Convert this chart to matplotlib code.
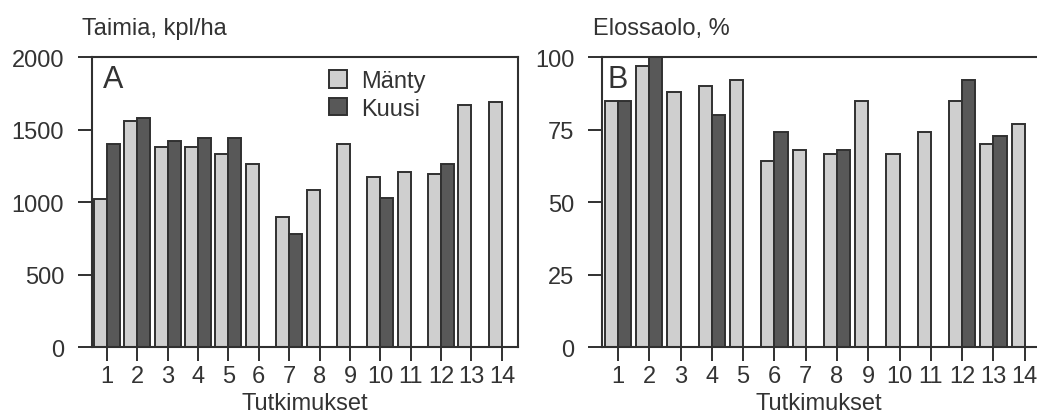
import matplotlib.pyplot as plt
import numpy as np

plt.rcParams['font.family'] = ['Liberation Sans', 'DejaVu Sans']

# Tutkimukset 1..14
studies = np.arange(1, 15)
tick_labels = [str(s) for s in studies]

# A: Taimia, kpl/ha (None = no bar)
manty_a = [1020, 1560, 1380, 1380, 1330, 1260, 900, 1080, 1400, 1170, 1210, 1190, 1670, 1690]
kuusi_a = [1400, 1580, 1420, 1440, 1440, None, 780, None, None, 1030, None, 1260, None, None]

# B: Elossaolo, %
manty_b = [85, 97, 88, 90, 92, 64, 68, 66.5, 85, 66.5, 74, 85, 70, 77]
kuusi_b = [85, 100, None, 80, None, 74, None, 68, None, None, None, 92, 72.7, None]

light = '#cfcfcf'
dark = '#585858'
edge = '#303030'
txt = '#333333'

fig = plt.figure(figsize=(10.37, 4.14), dpi=100)
axA = fig.add_axes([0.0887, 0.1594, 0.4108, 0.7005])
axB = fig.add_axes([0.5805, 0.1594, 0.4258, 0.7005])


def draw(ax, manty, kuusi, width):
    xm = [s - width / 2 for s in studies]
    ax.bar(xm, manty, width=width, color=light, edgecolor=edge, linewidth=1.4,
           label='Mänty', zorder=2)
    xs = [s + width / 2 for s, k in zip(studies, kuusi) if k is not None]
    ks = [k for k in kuusi if k is not None]
    ax.bar(xs, ks, width=width, color=dark, edgecolor=edge, linewidth=1.4,
           label='Kuusi', zorder=2)
    ax.set_xticks(studies)
    ax.set_xticklabels(tick_labels)
    ax.tick_params(axis='both', direction='out', length=10, width=1.4,
                   colors=edge, labelcolor=txt, labelsize=17)
    ax.tick_params(axis='x', pad=3)
    ax.tick_params(axis='y', pad=10)
    for sp in ax.spines.values():
        sp.set_linewidth(1.5)
        sp.set_color(edge)
    ax.set_xlabel('Tutkimukset', fontsize=17, color=txt)


draw(axA, manty_a, kuusi_a, 0.43)
axA.set_xlim(0.51, 14.53)
axA.set_ylim(0, 2000)
axA.set_yticks([0, 500, 1000, 1500, 2000])
axA.text(0.025, 0.975, 'A', transform=axA.transAxes, fontsize=22, color=txt,
         ha='left', va='top')
axA.legend(loc='upper left', bbox_to_anchor=(0.557, 0.955), frameon=False,
           fontsize=17, handlelength=0.76, handleheight=0.76, handletextpad=0.6,
           labelspacing=0.25, borderpad=0, borderaxespad=0, labelcolor=txt)

draw(axB, manty_b, kuusi_b, 0.42)
axB.set_xlim(0.49, 14.6)
axB.set_ylim(0, 100)
axB.set_yticks([0, 25, 50, 75, 100])
axB.text(0.012, 0.975, 'B', transform=axB.transAxes, fontsize=22, color=txt,
         ha='left', va='top', zorder=3)
axB.xaxis.set_label_coords(0.49, -0.155)
axA.xaxis.set_label_coords(0.5, -0.155)

fig.text(82 / 1037, 1 - 35 / 414, 'Taimia, kpl/ha', fontsize=17, color=txt,
         ha='left', va='baseline')
fig.text(593 / 1037, 1 - 35 / 414, 'Elossaolo, %', fontsize=17, color=txt,
         ha='left', va='baseline')

fig.savefig('out.png', dpi=100)
